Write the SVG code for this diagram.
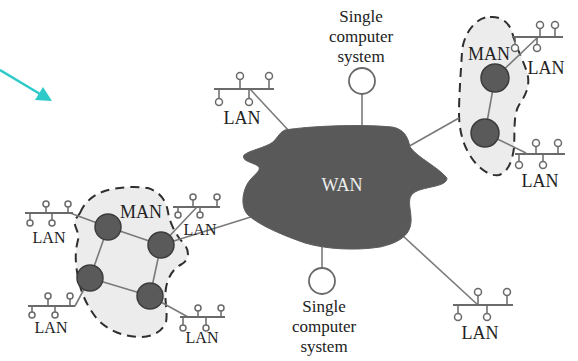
<svg xmlns="http://www.w3.org/2000/svg" width="578" height="361" viewBox="0 0 578 361">
<defs>
<style>
.conn{stroke:#7a7a7a;stroke-width:1.6;fill:none}
.bus{stroke:#6a6a6a;stroke-width:2;fill:none}
.stub{stroke:#6a6a6a;stroke-width:1.5;fill:none}
.pc{fill:#fff;stroke:#6a6a6a;stroke-width:1.5}
.node{fill:#5a5a5a;stroke:#3c3c3c;stroke-width:1.5}
.man{fill:#ececec;stroke:#2f2f2f;stroke-width:2;stroke-dasharray:9 6}
.sys{fill:#fff;stroke:#6a6a6a;stroke-width:1.8}
.t{font-family:"Liberation Serif","Times New Roman",serif;fill:#222;text-anchor:middle}
.t18{font-size:18px}
.t17{font-size:17px}
.t16{font-size:16px}
</style>
</defs>
<rect width="578" height="361" fill="#fff"/>

<!-- cyan arrow -->
<g id="pointer">
<line x1="0" y1="70" x2="40" y2="94" stroke="#2ecaca" stroke-width="2.5"/>
<polygon points="52,101 35,100 43,87" fill="#2ecaca"/>
</g>

<!-- MAN regions -->
<g id="man-right-region">
<path class="man" d="M490,17 C500,16 509,22 512,32 C515,44 522,58 527,72 C531,86 525,96 519,105 C513,115 515,133 514,148 C512,162 508,172 499,175 C490,177 478,168 471,157 C463,145 459,130 459,113 C459,95 461,70 462,52 C463,38 470,27 478,21 C482,18 486,17 490,17 Z"/>
</g>
<g id="man-left-region">
<path class="man" d="M80,213 C84,203 92,196 102,192 C115,187 135,186 148,188 C160,192 166,200 168,212 C170,224 176,235 184,244 C190,251 189,260 182,264 C174,268 168,276 166,288 C164,300 168,312 166,322 C162,332 152,337 140,337 C126,337 110,332 98,320 C88,308 82,295 79,282 C76,268 74,255 78,240 C80,232 73,226 75,220 Z"/>
</g>

<!-- connectors -->
<g id="connectors">
<line class="conn" x1="250" y1="89" x2="290" y2="132"/>
<line class="conn" x1="362" y1="94" x2="362" y2="128"/>
<line class="conn" x1="406" y1="148" x2="459" y2="118"/>
<line class="conn" x1="495" y1="78" x2="485" y2="133"/>
<line class="conn" x1="495" y1="78" x2="538" y2="37"/>
<line class="conn" x1="485" y1="133" x2="526" y2="153"/>
<line class="conn" x1="403" y1="236" x2="478" y2="305"/>
<line class="conn" x1="322" y1="244" x2="322" y2="268"/>
<line class="conn" x1="254" y1="216" x2="161" y2="245"/>
<line class="conn" x1="108" y1="227" x2="161" y2="245"/>
<line class="conn" x1="108" y1="227" x2="90" y2="278"/>
<line class="conn" x1="90" y1="278" x2="150" y2="296"/>
<line class="conn" x1="161" y1="245" x2="150" y2="296"/>
<line class="conn" x1="70" y1="213" x2="108" y2="227"/>
<line class="conn" x1="197" y1="207" x2="161" y2="245"/>
<line class="conn" x1="75" y1="306" x2="90" y2="278"/>
<line class="conn" x1="188" y1="317" x2="150" y2="296"/>
</g>

<!-- WAN -->
<g id="wan">
<path fill="#595959" stroke="#5e5e5e" stroke-width="1" d="M285,130 C310,126 360,124 392,127 C404,129 408,137 410,147 C418,158 438,167 447,178 C447,187 426,186 415,192 C405,198 412,210 411,222 C410,236 398,243 380,247 C355,251 325,249 305,243 C285,236 260,226 248,215 C240,207 242,190 250,180 C256,173 262,170 258,166 C252,162 241,161 244,155 C250,150 265,148 273,142 C278,137 280,132 285,130 Z"/>
<text class="t t18" x="342" y="191" style="fill:#eeeeee">WAN</text>
</g>

<!-- single computer systems -->
<g id="sys-top">
<circle class="sys" cx="362" cy="81" r="13"/>
<text class="t t17" x="361" y="22">Single</text>
<text class="t t17" x="361" y="42">computer</text>
<text class="t t17" x="361" y="62">system</text>
</g>
<g id="sys-bottom">
<circle class="sys" cx="322" cy="281" r="13"/>
<text class="t t17" x="324" y="312">Single</text>
<text class="t t17" x="324" y="332">computer</text>
<text class="t t17" x="324" y="352">system</text>
</g>

<!-- right MAN nodes -->
<g id="man-right">
<circle class="node" cx="495" cy="78" r="14"/>
<circle class="node" cx="485" cy="133" r="14"/>
<text class="t t18" x="489" y="60">MAN</text>
</g>

<!-- left MAN nodes -->
<g id="man-left">
<circle class="node" cx="108" cy="227" r="13"/>
<circle class="node" cx="161" cy="245" r="13"/>
<circle class="node" cx="90" cy="278" r="13"/>
<circle class="node" cx="150" cy="296" r="13"/>
<text class="t t18" x="141" y="218">MAN</text>
</g>

<!-- LANs -->
<g id="lan-top-left">
<line class="bus" x1="214" y1="89" x2="274" y2="89"/>
<path class="stub" d="M240,89V79.5M269,89V79.5M219,89V98.5M249,89V98.5"/>
<circle class="pc" cx="240" cy="76" r="3.5"/><circle class="pc" cx="269" cy="76" r="3.5"/>
<circle class="pc" cx="219" cy="102" r="3.5"/><circle class="pc" cx="249" cy="102" r="3.5"/>
<text class="t t18" x="242" y="124">LAN</text>
</g>
<g id="lan-right-upper">
<line class="bus" x1="512" y1="37" x2="563" y2="37"/>
<path class="stub" d="M540,37V28.5M555,37V28.5M515,37V44.5M537,37V44.5"/>
<circle class="pc" cx="540" cy="25" r="3.5"/><circle class="pc" cx="555" cy="25" r="3.5"/>
<circle class="pc" cx="515" cy="48" r="3.5"/><circle class="pc" cx="537" cy="48" r="3.5"/>
<text class="t t18" x="546" y="74">LAN</text>
</g>
<g id="lan-right-lower">
<line class="bus" x1="515" y1="154" x2="565" y2="154"/>
<path class="stub" d="M536,154V146.5M558,154V146.5M519,154V161.5M543,154V161.5"/>
<circle class="pc" cx="536" cy="143" r="3.5"/><circle class="pc" cx="558" cy="143" r="3.5"/>
<circle class="pc" cx="519" cy="165" r="3.5"/><circle class="pc" cx="543" cy="165" r="3.5"/>
<text class="t t18" x="540" y="187">LAN</text>
</g>
<g id="lan-bottom-right">
<line class="bus" x1="453" y1="305" x2="513" y2="305"/>
<path class="stub" d="M478,305V295.5M507,305V295.5M458,305V313.5M487,305V313.5"/>
<circle class="pc" cx="478" cy="292" r="3.5"/><circle class="pc" cx="507" cy="292" r="3.5"/>
<circle class="pc" cx="458" cy="317" r="3.5"/><circle class="pc" cx="487" cy="317" r="3.5"/>
<text class="t t18" x="480" y="339">LAN</text>
</g>
<g id="lan-left-upper-left">
<line class="bus" x1="25" y1="213" x2="73" y2="213"/>
<path class="stub" d="M46,213V207M68,213V207M30,213V220M52,213V220"/>
<circle class="pc" cx="46" cy="204" r="3"/><circle class="pc" cx="68" cy="204" r="3"/>
<circle class="pc" cx="30" cy="223" r="3"/><circle class="pc" cx="52" cy="223" r="3"/>
<text class="t t16" x="49" y="243">LAN</text>
</g>
<g id="lan-left-upper-right">
<line class="bus" x1="173" y1="207" x2="220" y2="207"/>
<path class="stub" d="M193,207V200M217,207V200M178,207V212M200,207V212"/>
<circle class="pc" cx="193" cy="197" r="3"/><circle class="pc" cx="217" cy="197" r="3"/>
<circle class="pc" cx="178" cy="215" r="3"/><circle class="pc" cx="200" cy="215" r="3"/>
<text class="t t16" x="200" y="235">LAN</text>
</g>
<g id="lan-left-lower-left">
<line class="bus" x1="28" y1="306" x2="75" y2="306"/>
<path class="stub" d="M48,306V299M70,306V299M32,306V312M55,306V312"/>
<circle class="pc" cx="48" cy="296" r="3"/><circle class="pc" cx="70" cy="296" r="3"/>
<circle class="pc" cx="32" cy="315" r="3"/><circle class="pc" cx="55" cy="315" r="3"/>
<text class="t t16" x="51" y="333">LAN</text>
</g>
<g id="lan-left-lower-right">
<line class="bus" x1="180" y1="317" x2="225" y2="317"/>
<path class="stub" d="M198,317V311M221,317V311M183,317V325M206,317V325"/>
<circle class="pc" cx="198" cy="308" r="3"/><circle class="pc" cx="221" cy="308" r="3"/>
<circle class="pc" cx="183" cy="328" r="3"/><circle class="pc" cx="206" cy="328" r="3"/>
<text class="t t16" x="202" y="343">LAN</text>
</g>
</svg>
